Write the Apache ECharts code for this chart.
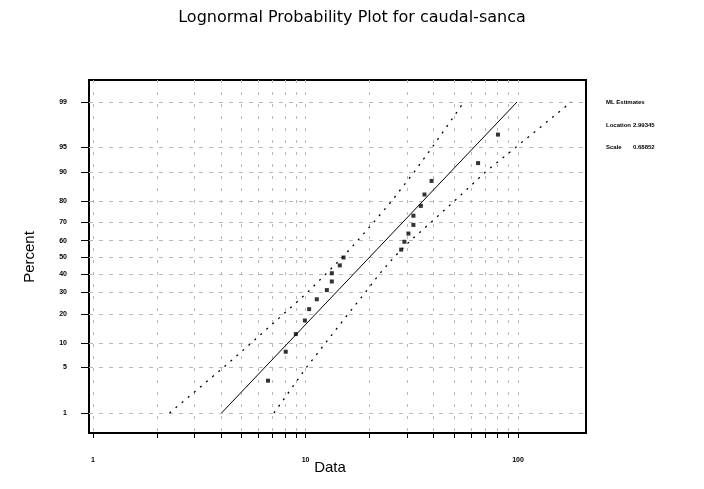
<!DOCTYPE html>
<html>
<head>
<meta charset="utf-8">
<script src="https://cdn.jsdelivr.net/npm/echarts@6/dist/echarts.min.js"></script>
<style>
  html, body { margin: 0; padding: 0; background: #fff; }
  #chart { width: 704px; height: 489px; }
</style>
</head>
<body>
<div id="chart"></div>
<script>
// Probability (percent) grid and log-scale data grid
const percentTicks = [1, 5, 10, 20, 30, 40, 50, 60, 70, 80, 90, 95, 99];
const dataTicks = [1, 2, 3, 4, 5, 6, 7, 8, 9, 10, 20, 30, 40, 50, 60, 70, 80, 90, 100];
const dataLabels = [1, 10, 100];

// Ordered observations and their plotting positions (percent)
const sampleValues = [6.66, 8.07, 9.0, 9.93, 10.4, 11.3, 12.6, 13.3, 13.3, 14.5, 15.1,
                      28.2, 29.2, 30.5, 32.2, 32.2, 34.9, 36.3, 39.2, 64.9, 80.5];
const samplePercents = [3.27, 7.94, 12.6, 17.3, 22.0, 26.6, 31.3, 36.0, 40.7, 45.3, 50.0,
                        54.7, 59.3, 64.0, 68.7, 73.4, 78.0, 82.7, 87.4, 92.1, 96.7];

// 95% confidence band, data value at each percent level
const bandPercents = [1, 5, 10, 20, 30, 40, 50, 60, 70, 80, 90, 95, 99];
const upperBand = [2.29, 4.11, 5.54, 7.90, 10.2, 12.4, 14.9, 17.6, 20.9, 25.4, 32.5, 39.4, 55.7];
const lowerBand = [7.1, 10.1, 12.4, 15.9, 19.1, 22.2, 26.0, 31.2, 38.9, 50.1, 70.4, 97.4, 178];

// ML estimates of the lognormal fit
const fitLocation = '2.99345';
const fitScale = '0.68852';

// Inverse standard normal CDF (Acklam) – maps percent onto the probability scale
function probit(p) {
  const a = [-3.969683028665376e+01, 2.209460984245205e+02, -2.759285104469687e+02,
             1.383577518672690e+02, -3.066479806614716e+01, 2.506628277459239e+00];
  const b = [-5.447609879822406e+01, 1.615858368580409e+02, -1.556989798598866e+02,
             6.680131188771972e+01, -1.328068155288572e+01];
  const c = [-7.784894002430293e-03, -3.223964580411365e-01, -2.400758277161838e+00,
             -2.549732539343734e+00, 4.374664141464968e+00, 2.938163982698783e+00];
  const d = [7.784695709041462e-03, 3.224671290700398e-01, 2.445134137142996e+00,
             3.754408661907416e+00];
  const pl = 0.02425;
  let q, r;
  if (p < pl) {
    q = Math.sqrt(-2 * Math.log(p));
    return (((((c[0]*q+c[1])*q+c[2])*q+c[3])*q+c[4])*q+c[5]) / ((((d[0]*q+d[1])*q+d[2])*q+d[3])*q+1);
  }
  if (p > 1 - pl) {
    q = Math.sqrt(-2 * Math.log(1 - p));
    return -(((((c[0]*q+c[1])*q+c[2])*q+c[3])*q+c[4])*q+c[5]) / ((((d[0]*q+d[1])*q+d[2])*q+d[3])*q+1);
  }
  q = p - 0.5; r = q * q;
  return (((((a[0]*r+a[1])*r+a[2])*r+a[3])*r+a[4])*r+a[5])*q / (((((b[0]*r+b[1])*r+b[2])*r+b[3])*r+b[4])*r+1);
}
const zOf = pct => probit(pct / 100);
const lx = v => Math.log10(v);

const percentZ = percentTicks.map(zOf);
const dataTickLx = dataTicks.map(lx);
const dataLabelLx = dataLabels.map(lx);

const points = sampleValues.map((v, i) => [lx(v), zOf(samplePercents[i])]);
const upper = upperBand.map((v, i) => [lx(v), zOf(bandPercents[i])]);
const lower = lowerBand.map((v, i) => [lx(v), zOf(bandPercents[i])]);

const mu = parseFloat(fitLocation), sigma = parseFloat(fitScale);
const fitLine = [1, 99].map(p => {
  const z = zOf(p);
  return [(mu + z * sigma) / Math.LN10, z];
});

const chart = echarts.init(document.getElementById('chart'), null, { renderer: 'canvas' });
const tinyFont = { fontFamily: 'Liberation Sans', fontSize: 7, fontWeight: 'bold', color: '#000' };
const smallText = 'bold 6px "Liberation Sans"';

chart.setOption({
  animation: false,
  backgroundColor: '#fff',
  grid: { left: 89, right: 118, top: 80, bottom: 56, show: true, borderColor: '#000', borderWidth: 2, backgroundColor: 'transparent' },
  xAxis: {
    type: 'value',
    min: lx(0.957), max: lx(209),
    axisLine: { show: false, onZero: false },
    axisTick: { show: true, inside: false, length: 5, lineStyle: { color: '#000', width: 1 }, customValues: dataTickLx },
    axisLabel: {
      show: true, margin: 24, customValues: dataLabelLx, ...tinyFont,
      formatter: v => String(Math.round(Math.pow(10, v)))
    },
    splitLine: { show: true, lineStyle: { color: '#b8b8b8', width: 1, type: [3, 9] } }
  },
  yAxis: {
    type: 'value',
    min: -2.625, max: 2.655,
    axisLine: { show: false, onZero: false },
    axisTick: { show: true, inside: false, length: 8, lineStyle: { color: '#000', width: 1 }, customValues: percentZ },
    axisLabel: {
      show: true, margin: 22, customValues: percentZ, ...tinyFont,
      formatter: v => {
        let best = percentTicks[0], bd = Infinity;
        percentTicks.forEach(p => { const d = Math.abs(zOf(p) - v); if (d < bd) { bd = d; best = p; } });
        return String(best);
      }
    },
    splitLine: { show: true, lineStyle: { color: '#b8b8b8', width: 1, type: [4, 6] } }
  },
  series: [
    {
      type: 'line', data: upper, showSymbol: false, silent: true,
      lineStyle: { color: '#000', width: 1.3, type: [2, 6] }
    },
    {
      type: 'line', data: lower, showSymbol: false, silent: true,
      lineStyle: { color: '#000', width: 1.3, type: [2, 6] }
    },
    {
      type: 'line', data: fitLine, showSymbol: false, silent: true,
      lineStyle: { color: '#000', width: 1 }
    },
    {
      type: 'scatter', data: points, symbol: 'rect', symbolSize: 4,
      itemStyle: { color: '#000' }
    }
  ],
  graphic: [
    { type: 'text', left: 'center', top: 10, style: { text: 'Lognormal Probability Plot for caudal-sanca', font: '16px "DejaVu Sans"', fill: '#000' } },
    { type: 'text', x: 30, y: 257, rotation: Math.PI / 2, style: { text: 'Percent', font: '15px "Liberation Sans"', fill: '#000', align: 'center', verticalAlign: 'middle' } },
    { type: 'text', x: 330, y: 468, style: { text: 'Data', font: '15px "Liberation Sans"', fill: '#000', align: 'center', verticalAlign: 'middle' } },
    { type: 'text', x: 606, y: 102, style: { text: 'ML Estimates', font: smallText, fill: '#000', verticalAlign: 'middle' } },
    { type: 'text', x: 606, y: 125, style: { text: 'Location', font: smallText, fill: '#000', verticalAlign: 'middle' } },
    { type: 'text', x: 633, y: 125, style: { text: fitLocation, font: smallText, fill: '#000', verticalAlign: 'middle' } },
    { type: 'text', x: 606, y: 147, style: { text: 'Scale', font: smallText, fill: '#000', verticalAlign: 'middle' } },
    { type: 'text', x: 633, y: 147, style: { text: fitScale, font: smallText, fill: '#000', verticalAlign: 'middle' } }
  ]
});
</script>
</body>
</html>
